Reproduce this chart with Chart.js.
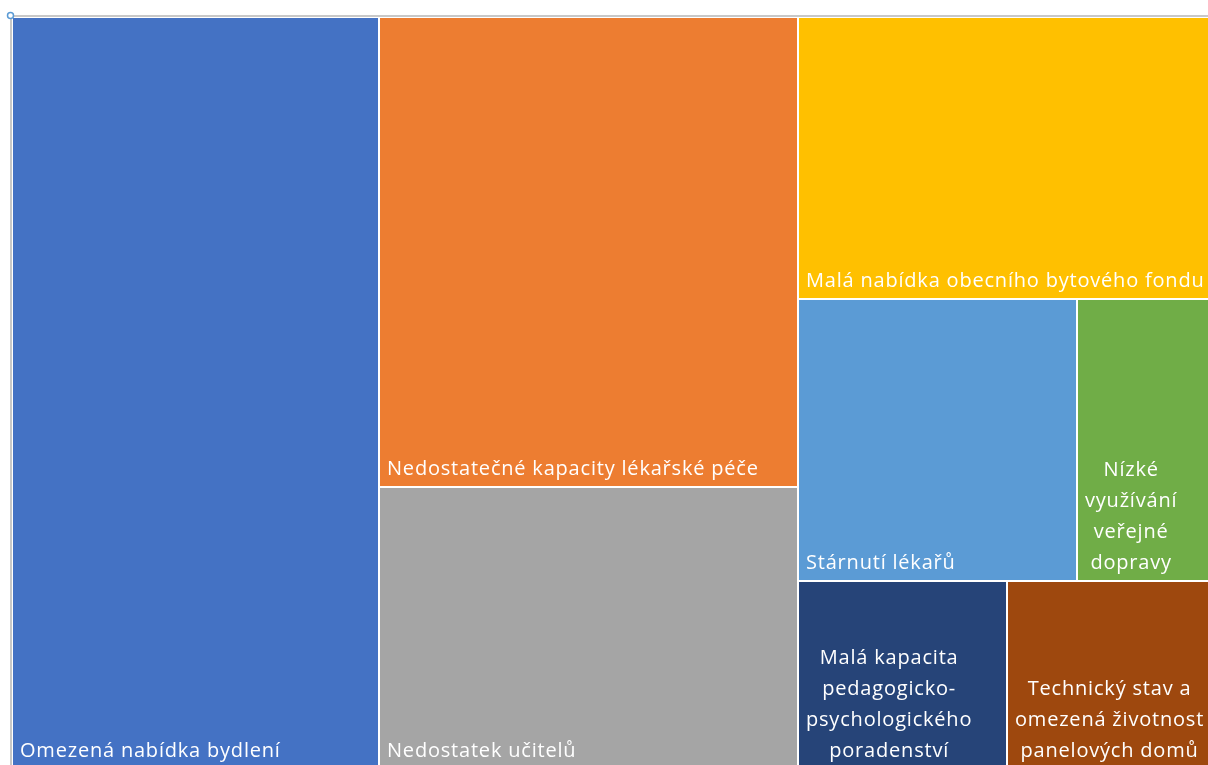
<!DOCTYPE html>
<html lang="cs">

<head>
    <meta charset="UTF-8">
    <meta name="viewport" content="width=device-width, initial-scale=1.0">
    <title>Treemap</title>
    <script src="https://cdn.jsdelivr.net/npm/chart.js"></script>
    <style>
        html, body { margin: 0; padding: 0; background: #fff; overflow: hidden; }
        /* graf je v originále oříznutý vpravo a dole, proto je plátno větší než okno */
        .ramecek { position: absolute; left: 0; top: 0; width: 1232px; height: 785px; }
    </style>
</head>

<body>
    <div class="ramecek"><canvas id="graf"></canvas></div>

<script>
    const kategorie = [
        'Omezená nabídka bydlení',
        'Nedostatečné kapacity lékařské péče',
        'Nedostatek učitelů',
        'Malá nabídka obecního bytového fondu',
        'Stárnutí lékařů',
        'Nízké využívání veřejné dopravy',
        'Malá kapacita pedagogicko-psychologického poradenství',
        'Technický stav a omezená životnost panelových domů'
    ];
    const hodnoty = [7, 5, 3, 3, 2, 1, 1, 1];
    const barvy = ['#4472C4', '#ED7D31', '#A5A5A5', '#FFC000', '#5B9BD5', '#70AD47', '#264478', '#9E480E'];

    const PISMO = '20px "Open Sans"';
    const RADEK = 31;

    // squarify; Excel trochu víc preferuje kratší pásy, proto ta tolerance
    const TOLERANCE = 0.95;

    function nejhorsiPomer(pas, strana, naJednotku) {
        const plocha = pas.reduce((a, b) => a + b, 0) * naJednotku;
        const tloustka = plocha / strana;
        let max = 0;
        pas.forEach(v => {
            const delka = v * naJednotku / tloustka;
            max = Math.max(max, tloustka / delka, delka / tloustka);
        });
        return max;
    }

    function rozvrhni(hodnoty, sirka, vyska) {
        const celkem = hodnoty.reduce((a, b) => a + b, 0);
        const naJednotku = sirka * vyska / celkem;
        let x = 0, y = 0, w = sirka, h = vyska;
        let i = 0;
        const vysledek = [];
        while (i < hodnoty.length) {
            const strana = Math.min(w, h);
            let pas = [hodnoty[i]];
            let nejhorsi = nejhorsiPomer(pas, strana, naJednotku);
            let j = i + 1;
            while (j < hodnoty.length) {
                const novy = nejhorsiPomer(pas.concat(hodnoty[j]), strana, naJednotku);
                if (novy > nejhorsi * TOLERANCE) break;
                pas.push(hodnoty[j]);
                nejhorsi = novy;
                j++;
            }
            const plocha = pas.reduce((a, b) => a + b, 0) * naJednotku;
            if (w >= h) {
                const sw = plocha / h;
                let yy = y;
                pas.forEach(v => {
                    const rh = v * naJednotku / sw;
                    vysledek.push({ x0: x / sirka, y0: yy / vyska, x1: (x + sw) / sirka, y1: (yy + rh) / vyska });
                    yy += rh;
                });
                x += sw; w -= sw;
            } else {
                const sh = plocha / w;
                let xx = x;
                pas.forEach(v => {
                    const rw = v * naJednotku / sh;
                    vysledek.push({ x0: xx / sirka, y0: y / vyska, x1: (xx + rw) / sirka, y1: (y + sh) / vyska });
                    xx += rw;
                });
                y += sh; h -= sh;
            }
            i = j;
        }
        return vysledek;
    }

    // zalomení popisku podle šířky dlaždice (i za pomlčkou)
    function zalom(ctx, text, maxSirka) {
        const kusy = [];
        text.split(' ').forEach((slovo, k) => {
            const casti = slovo.split(/(?<=-)/);
            casti.forEach((c, m) => kusy.push({ t: c, mezera: k > 0 && m === 0 }));
        });
        const radky = [];
        let akt = '';
        kusy.forEach(kus => {
            const zkus = akt === '' ? kus.t : akt + (kus.mezera ? ' ' : '') + kus.t;
            if (akt !== '' && ctx.measureText(zkus).width > maxSirka) {
                radky.push(akt);
                akt = kus.t;
            } else {
                akt = zkus;
            }
        });
        if (akt !== '') radky.push(akt);
        return radky;
    }

    const dlazdicePlugin = {
        id: 'dlazdice',
        beforeDraw(chart) {
            const ctx = chart.ctx;
            ctx.save();
            // rámeček grafu
            ctx.fillStyle = '#c8c8c8';
            ctx.fillRect(10, 15, chart.width, 2);
            ctx.fillRect(10, 15, 2, chart.height);
            ctx.restore();
        },
        afterDatasetsDraw(chart) {
            const ctx = chart.ctx;
            const sx = chart.scales.x, sy = chart.scales.y;
            const area = chart.chartArea;
            const obdelniky = rozvrhni(hodnoty, area.right - area.left, area.bottom - area.top);

            ctx.save();
            obdelniky.forEach((r, i) => {
                const px0 = Math.round(sx.getPixelForValue(r.x0));
                const px1 = Math.round(sx.getPixelForValue(r.x1));
                const py0 = Math.round(sy.getPixelForValue(r.y0));
                const py1 = Math.round(sy.getPixelForValue(r.y1));
                ctx.fillStyle = barvy[i];
                ctx.fillRect(px0 + 1, py0 + 1, px1 - px0 - 2, py1 - py0 - 2);

                ctx.save();
                ctx.beginPath();
                ctx.rect(px0 + 1, py0 + 1, px1 - px0 - 2, py1 - py0 - 2);
                ctx.clip();
                ctx.font = PISMO;
                ctx.letterSpacing = '0.8px';
                ctx.fillStyle = '#ffffff';
                ctx.textAlign = 'left';
                ctx.textBaseline = 'alphabetic';
                const radky = zalom(ctx, kategorie[i], px1 - px0 - 8);
                const sirky = radky.map(t => ctx.measureText(t).width);
                const blok = Math.max(...sirky);
                const levy = px0 + 8;
                let base = py1 - 12 - (radky.length - 1) * RADEK;
                radky.forEach((t, k) => {
                    ctx.fillText(t, levy + (blok - sirky[k]) / 2, base);
                    base += RADEK;
                });
                ctx.restore();
            });

            // úchyt výběru v levém horním rohu
            ctx.beginPath();
            ctx.arc(10.5, 15.5, 3, 0, Math.PI * 2);
            ctx.fillStyle = '#ffffff';
            ctx.fill();
            ctx.lineWidth = 1.5;
            ctx.strokeStyle = '#5b9bd5';
            ctx.stroke();
            ctx.restore();
        }
    };

    new Chart(document.getElementById('graf'), {
        type: 'scatter',
        data: { datasets: [{ data: [] }] },
        options: {
            responsive: true,
            maintainAspectRatio: false,
            animation: false,
            layout: { padding: { left: 12, top: 17, right: 15, bottom: 16 } },
            plugins: {
                legend: { display: false },
                tooltip: { enabled: false }
            },
            scales: {
                x: { type: 'linear', min: 0, max: 1, display: false },
                y: { type: 'linear', min: 0, max: 1, reverse: true, display: false }
            }
        },
        plugins: [dlazdicePlugin]
    });
</script>
</body>

</html>
